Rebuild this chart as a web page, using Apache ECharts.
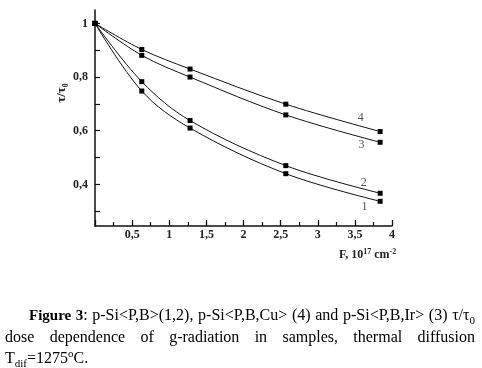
<!DOCTYPE html>
<html><head><meta charset="utf-8">
<script src="https://cdn.jsdelivr.net/npm/echarts@6/dist/echarts.min.js"></script>
<style>
html,body{margin:0;padding:0;background:#fff;}
#c{position:absolute;left:0;top:0;width:482px;height:368px;}
#cap{position:absolute;left:5px;top:304px;width:470px;font-family:"Liberation Serif",serif;font-size:16px;line-height:21px;color:#000;}
#cap div{text-align:justify;text-align-last:justify;white-space:nowrap;}
#cap div.l1{padding-left:24px;}
#cap div.l1 b{font-size:15px;}
#cap div.l3{text-align-last:left;}
#cap sub,#cap sup{font-size:11px;line-height:0;}
</style></head>
<body>
<div id="c"></div>
<div id="cap">
<div class="l1"><b>Figure 3</b>: p-Si&lt;P,B&gt;(1,2), p-Si&lt;P,B,Cu&gt; (4) and p-Si&lt;P,B,Ir&gt; (3) τ/τ<sub>0</sub></div>
<div class="l2">dose dependence of g-radiation in samples, thermal diffusion</div>
<div class="l3">T<sub>dif</sub>=1275<sup>o</sup>C.</div>
</div>
<script>
const doses = [0, 0.63, 1.28, 2.57, 3.84];
const series1 = [1, 0.748, 0.61, 0.44, 0.337];
const series2 = [1, 0.783, 0.638, 0.47, 0.367];
const series3 = [1, 0.881, 0.800, 0.659, 0.557];
const series4 = [1, 0.903, 0.830, 0.699, 0.597];
const seriesNames = ['1', '2', '3', '4'];
const yTickLabels = [0.4, 0.6, 0.8, 1];
const yTicks = [0.3, 0.4, 0.5, 0.6, 0.7, 0.8, 0.9, 1.0];

const labelPos = {'1':[3.63,0.318],'2':[3.62,0.404],'3':[3.59,0.547],'4':[3.58,0.648]};
const all = [series1, series2, series3, series4];
const fmt = v => String(v).replace('.', ',');
const chart = echarts.init(document.getElementById('c'));
const font = '"Liberation Serif", serif';
chart.setOption({
  animation: false,
  grid: {left: 95, right: 90, top: 10, bottom: 142},
  xAxis: {
    type: 'value', min: 0, max: 4, interval: 0.5,
    axisLine: {lineStyle: {color: '#111', width: 1.5}},
    axisTick: {inside: true, length: 6, lineStyle: {color: '#111', width: 1.3}},
    minorTick: {show: true, splitNumber: 2, length: 4, lineStyle: {color: '#111', width: 1.2}},
    splitLine: {show: false},
    axisLabel: {formatter: v => v === 0 ? '' : fmt(v), fontFamily: font, fontWeight: 'bold', fontSize: 12, color: '#222', margin: 3}
  },
  yAxis: {
    type: 'value', min: 0.245, max: 1.05,
    axisLine: {show: true, lineStyle: {color: '#111', width: 1.5}},
    axisTick: {inside: true, length: 5, customValues: yTicks, lineStyle: {color: '#111', width: 1.2}},
    splitLine: {show: false},
    axisLabel: {customValues: yTickLabels, formatter: v => fmt(v), fontFamily: font, fontWeight: 'bold', fontSize: 12, color: '#222', margin: 7}
  },
  graphic: [
    {type: 'text', x: 62, y: 93, rotation: Math.PI/2, style: {text: 'τ/τ₀', align: 'center', verticalAlign: 'middle', font: 'bold 13px "Liberation Serif", serif', fill: '#222'}},
    {type: 'text', left: 339, top: 248, style: {rich: {a: {font: 'bold 12px "Liberation Serif", serif', fill: '#222'}, s: {font: 'bold 8px "Liberation Serif", serif', fill: '#222', verticalAlign: 'top', padding:[0,0,6,0]}}, text: '{a|F, 10}{s|17}{a| cm}{s|-2}'}}
  ],
  series: all.map((d, i) => ({
    type: 'line', name: seriesNames[i],
    data: doses.map((x, j) => [x, d[j]]),
    smooth: 0.35,
    symbol: 'rect', symbolSize: 5,
    itemStyle: {color: '#000'},
    lineStyle: {color: '#111', width: 1},
    markPoint: {
      symbol: 'circle', symbolSize: 1,
      itemStyle: {color: 'rgba(0,0,0,0)'},
      data: [{coord: labelPos[seriesNames[i]], value: seriesNames[i]}],
      label: {show: true, position: 'inside', formatter: seriesNames[i], fontFamily: font, fontSize: 12, color: '#555'}
    }
  }))
});
</script>
</body></html>
